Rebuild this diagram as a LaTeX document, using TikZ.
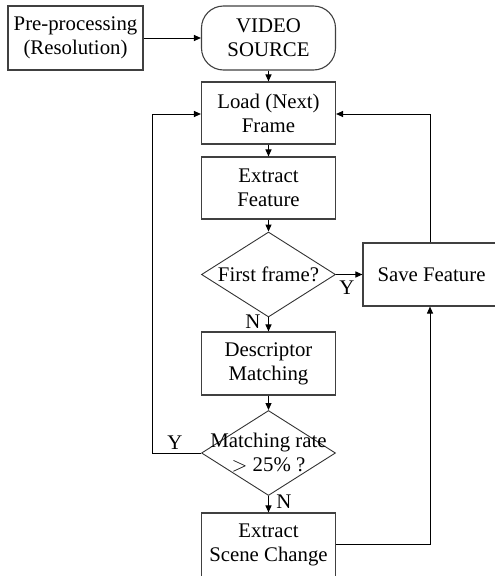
\documentclass[tikz,border=0pt]{standalone}
\usepackage{fontspec}
\setmainfont{Liberation Serif}
\usetikzlibrary{arrows.meta,shapes.geometric}
\begin{document}
\begin{tikzpicture}[x=1pt,y=-1pt,
  every node/.style={font=\fontsize{20.8}{24}\selectfont},
  box/.style={draw=black!75,line width=1.1pt,rectangle,inner sep=0pt,align=center},
  dia/.style={draw=black!80,line width=0.9pt,diamond,inner sep=0pt,minimum width=134pt,minimum height=85pt},
  txt/.style={inner sep=0pt,align=center},
  conn/.style={line width=1pt,-{Triangle[length=7pt,width=6pt]}},
  line/.style={line width=1pt}]
\useasboundingbox (0,0) rectangle (495,576);
\node[box,minimum width=135pt,minimum height=64pt] (pre) at (75.5,38) {Pre-processing\\(Resolution)};
\node[box,rounded corners=22pt,minimum width=134pt,minimum height=64pt] (src) at (268.5,38) {VIDEO\\SOURCE};
\node[box,minimum width=134pt,minimum height=62pt] (load) at (268.5,113) {Load (Next)\\Frame};
\node[box,minimum width=134pt,minimum height=62pt] (ext) at (268.5,188) {Extract\\Feature};
\node[dia] (d1) at (268.5,274.5) {};
\node[txt] (t1) at (d1.center) {First frame?};
\node[box,minimum width=137pt,minimum height=63pt] (save) at (431.5,274.5) {Save Feature};
\node[box,minimum width=134pt,minimum height=63pt] (desc) at (268.5,363.5) {Descriptor\\Matching};
\node[dia] (d2) at (268.5,453) {};
\node[txt] (t2) at (d2.center) {Matching rate\\$>$ 25\% ?};
\node[box,minimum width=134pt,minimum height=64pt] (scene) at (268.5,545) {Extract\\Scene Change};
\coordinate (lc) at (152,453);
\coordinate (lt) at (152,114);
\coordinate (rt) at (430,114);
\coordinate (rb) at (430,544);
\draw[conn] (pre.east) -- (src.west);
\draw[conn] (src.south) -- (load.north);
\draw[conn] (load.south) -- (ext.north);
\draw[conn] (ext.south) -- (d1.north);
\draw[conn] (d1.east) -- (save.west);
\draw[conn] (d1.south) -- (desc.north);
\draw[conn] (desc.south) -- (d2.north);
\draw[conn] (d2.south) -- (scene.north);
\draw[conn] (d2.west) -- (lc) -- (lt) -- (load.west |- lt);
\draw[conn] (save.north -| rt) -- (rt) -- (load.east |- rt);
\draw[conn] (scene.east |- rb) -- (rb) -- (save.south -| rb);
\node[txt] at (347,288) {Y};
\node[txt] at (253,322) {N};
\node[txt] at (175,443) {Y};
\node[txt] at (284,502) {N};
\end{tikzpicture}
\end{document}
